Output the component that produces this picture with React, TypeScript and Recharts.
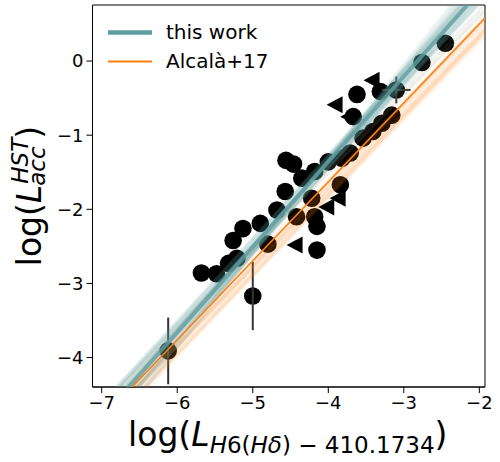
import React from 'react';
import { ComposedChart, XAxis, YAxis, Scatter, Line, ErrorBar, Label, Legend, ReferenceArea } from 'recharts';

const X_MIN = -7.122;
const X_MAX = -1.925;
const Y_MIN = -4.397;
const Y_MAX = 0.756;

const xTicks = [-7, -6, -5, -4, -3, -2];
const yTicks = [-4, -3, -2, -1, 0];

// circles (no error bars)
const circleX = [-5.68, -5.48, -5.32, -5.21, -5.26, -5.13, -4.90, -4.80, -4.68, -4.57, -4.56, -4.46, -4.35, -4.18, -4.00, -3.82, -3.84, -4.22, -4.18, -4.15, -4.42, -4.15, -3.62, -3.31, -3.67, -3.16, -3.29, -3.41, -3.54, -3.71, -2.76, -2.45];
const circleY = [-2.86, -2.87, -2.73, -2.66, -2.42, -2.26, -2.19, -2.47, -2.01, -1.76, -1.34, -1.39, -1.58, -1.49, -1.36, -1.31, -1.67, -1.85, -2.10, -2.23, -2.10, -2.55, -0.45, -0.41, -0.75, -0.73, -0.84, -0.95, -1.04, -1.24, -0.02, 0.24];

// circles with error bars
const errX = [-6.12, -5.00, -3.10];
const errY = [-3.91, -3.17, -0.39];
const errXErr = [0, 0, 0.19];
const errYErr = [0.45, 0.46, 0.18];

// left-pointing triangles
const triX = [-3.42, -3.91, -3.73, -3.87, -4.02, -4.44];
const triY = [-0.26, -0.59, -0.75, -1.85, -1.97, -2.48];

// "this work" fit and posterior samples
const fitSlope = 1.15;
const fitIntercept = 3.24;
const sampleSlopes = [1.06, 1.08, 1.10, 1.12, 1.13, 1.14, 1.15, 1.16, 1.17, 1.18, 1.20, 1.22, 1.11, 1.19, 1.13, 1.17, 1.09, 1.21, 1.14, 1.16, 1.24, 1.26, 1.05, 1.12, 1.18, 1.15, 1.28, 1.10];
const sampleIntercepts = [2.80, 2.94, 3.03, 3.10, 3.16, 3.22, 3.28, 3.30, 3.33, 3.38, 3.44, 3.55, 3.00, 3.45, 3.08, 3.40, 2.95, 3.48, 3.30, 3.20, 3.62, 3.70, 2.70, 3.20, 3.30, 3.15, 3.80, 3.10];

// Alcalà+17 relation and its uncertainty lines
const alcalaSlope = 1.065;
const alcalaIntercept = 2.63;
const alcalaSampleSlopes = [1.04, 1.05, 1.06, 1.07, 1.08, 1.05, 1.07, 1.09, 1.06, 1.04, 1.06, 1.08];
const alcalaSampleIntercepts = [2.40, 2.45, 2.52, 2.58, 2.66, 2.36, 2.48, 2.70, 2.74, 2.55, 2.42, 2.50];

const TEAL = '#5f9ea0';
const ORANGE = '#ff7f0e';
const FONT = 'DejaVu Sans';

const circleData = circleX.map((x, i) => ({ x, y: circleY[i] }));
const errData = errX.map((x, i) => ({ x, y: errY[i], ex: errXErr[i], ey: errYErr[i] }));
const triData = triX.map((x, i) => ({ x, y: triY[i] }));

const lineData = (s: number, b: number) => [
  { x: X_MIN, y: s * X_MIN + b },
  { x: X_MAX, y: s * X_MAX + b },
];

const fmt = (v: number) => (v < 0 ? '\u2212' + Math.abs(v) : String(v));

const CircleShape = (p: any) => <circle cx={p.cx} cy={p.cy} r={8.8} fill="#000" />;
const TriShape = (p: any) => (
  <polygon
    points={`${p.cx - 8.5},${p.cy} ${p.cx + 7.5},${p.cy - 8.5} ${p.cx + 7.5},${p.cy + 8.5}`}
    fill="#000"
  />
);

const renderLegend = () => (
  <div style={{ fontFamily: FONT, fontSize: 20, color: '#000' }}>
    {[
      { label: 'this work', color: TEAL, w: 4.5 },
      { label: 'Alcal\u00e0+17', color: ORANGE, w: 2 },
    ].map((it) => (
      <div key={it.label} style={{ display: 'flex', alignItems: 'center', height: 29, lineHeight: '29px' }}>
        <svg width={44} height={29} style={{ marginRight: 14 }}>
          <line x1={0} x2={44} y1={14.5} y2={14.5} stroke={it.color} strokeWidth={it.w} />
        </svg>
        <span>{it.label}</span>
      </div>
    ))}
  </div>
);

const XLabel = (props: any) => {
  const vb = props.viewBox || {};
  const cx = vb.x + vb.width / 2 - 1;
  return (
    <text x={cx} y={446} textAnchor="middle" fontFamily={FONT} fontSize={33} fill="#000">
      {'log('}
      <tspan fontStyle="italic">L</tspan>
      <tspan fontSize={23} dy={7}>
        <tspan fontStyle="italic">H</tspan>
        {'6('}
        <tspan fontStyle="italic">{'H\u03b4'}</tspan>
        {') \u2212 410.1734'}
      </tspan>
      <tspan dy={-7}>{')'}</tspan>
    </text>
  );
};

const YLabel = () => {
  const bx = 41;
  const cy = 196;
  // estimated advance widths (DejaVu Sans metrics)
  const wLog = 63;
  const wL = 18.5;
  const wSup = 46;
  const total = wLog + wL + wSup + 13;
  const s = -total / 2;
  return (
    <g transform={`translate(${bx}, ${cy}) rotate(-90)`} fontFamily={FONT} fill="#000">
      <text x={s} y={0} fontSize={33}>{'log('}</text>
      <text x={s + wLog} y={0} fontSize={33} fontStyle="italic">L</text>
      <text x={s + wLog + wL + 1} y={-13} fontSize={23} fontStyle="italic">HST</text>
      <text x={s + wLog + wL - 1} y={4} fontSize={23} fontStyle="italic">acc</text>
      <text x={s + wLog + wL + wSup} y={0} fontSize={33}>{')'}</text>
    </g>
  );
};

export default function App() {
  return (
    <div style={{ position: 'absolute', left: 0, top: 0, background: '#fff' }}>
      <ComposedChart width={500} height={462} margin={{ top: 5, right: 15, bottom: 0, left: 0 }}>
        <XAxis
          type="number"
          dataKey="x"
          domain={[X_MIN, X_MAX]}
          ticks={xTicks}
          allowDataOverflow
          tickFormatter={fmt}
          tickSize={6}
          tickMargin={3}
          height={75}
          stroke="#000"
          tick={{ fontSize: 18, fill: '#000', fontFamily: FONT }}
          label={<Label content={XLabel} />}
        />
        <YAxis
          type="number"
          dataKey="y"
          domain={[Y_MIN, Y_MAX]}
          ticks={yTicks}
          allowDataOverflow
          tickFormatter={fmt}
          tickSize={6}
          tickMargin={3}
          width={92.5}
          stroke="#000"
          tick={{ fontSize: 18, fill: '#000', fontFamily: FONT }}
          label={<Label content={YLabel} />}
        />

        <Scatter data={circleData} shape={CircleShape} isAnimationActive={false} zIndex={300} />
        <Scatter data={triData} shape={TriShape} isAnimationActive={false} zIndex={300} />
        <Scatter data={errData} shape={CircleShape} isAnimationActive={false} zIndex={300}>
          <ErrorBar dataKey="ey" direction="y" stroke="#333" strokeWidth={2} width={0} />
          <ErrorBar dataKey="ex" direction="x" stroke="#333" strokeWidth={2} width={0} />
        </Scatter>

        {alcalaSampleSlopes.map((s, i) => (
          <Line
            key={'a' + i}
            data={lineData(s, alcalaSampleIntercepts[i])}
            dataKey="y"
            stroke={ORANGE}
            strokeOpacity={0.07}
            strokeWidth={4}
            dot={false}
            activeDot={false}
            isAnimationActive={false}
            zIndex={500}
          />
        ))}
        {sampleSlopes.map((s, i) => (
          <Line
            key={'t' + i}
            data={lineData(s, sampleIntercepts[i])}
            dataKey="y"
            stroke={TEAL}
            strokeOpacity={0.1}
            strokeWidth={3}
            dot={false}
            activeDot={false}
            isAnimationActive={false}
            zIndex={500}
          />
        ))}
        <Line
          data={lineData(fitSlope, fitIntercept)}
          dataKey="y"
          stroke={TEAL}
          strokeOpacity={0.8}
          strokeWidth={4}
          dot={false}
          activeDot={false}
          isAnimationActive={false}
          zIndex={500}
        />
        <Line
          data={lineData(alcalaSlope, alcalaIntercept)}
          dataKey="y"
          stroke={ORANGE}
          strokeWidth={1.6}
          dot={false}
          activeDot={false}
          isAnimationActive={false}
          zIndex={500}
        />
        <ReferenceArea
          x1={X_MIN}
          x2={X_MAX}
          y1={Y_MIN}
          y2={Y_MAX}
          fill="none"
          fillOpacity={0}
          stroke="#000"
          strokeWidth={1}
          ifOverflow="visible"
        />
        <Legend
          content={renderLegend}
          layout="vertical"
          align="center"
          verticalAlign="middle"
          wrapperStyle={{ top: 17.5, left: 108, width: 'auto' }}
        />
      </ComposedChart>
    </div>
  );
}
